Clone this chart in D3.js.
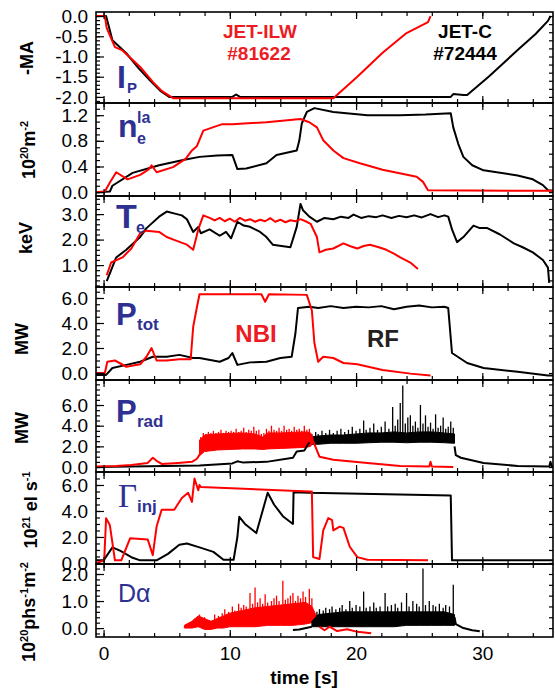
<!DOCTYPE html>
<html>
<head>
<meta charset="utf-8">
<title>JET-ILW #81622 vs JET-C #72444</title>
<style>
  body { margin: 0; background: #fff; }
  text { font-family: "Liberation Sans", Arial, sans-serif; }
</style>
</head>
<body>
<script src="https://cdn.jsdelivr.net/npm/d3@7"></script>
<script>
// values, [time s, value]
// C = JET-C #72444 (black), ILW = JET-ILW #81622 (red)

var ipC = [[-0.6,0],[0.2,0],[0.7,-0.6],[1.8,-0.92],[2.8,-1.3],[3.65,-1.58],[4.5,-1.85],[5.2,-2.0],[10.2,-2.0],[10.5,-1.94],[10.8,-2.0],[27.5,-2.0],[27.7,-1.93],[28.5,-1.95],[28.8,-1.95],[30.5,-1.5],[32.8,-0.84],[34.2,-0.45],[35.2,-0.12],[35.4,0]];
var ipILW = [[-0.6,0],[0.1,0],[0.25,-0.3],[0.9,-0.77],[1.5,-0.85],[2.9,-1.26],[3.9,-1.63],[4.6,-1.85],[5.5,-2.03],[18.2,-2.03],[20.1,-1.5],[22.1,-0.91],[24.0,-0.42],[25.7,-0.15],[25.9,0]];

var neC = [[-0.6,0],[0.5,0.01],[0.7,0.1],[2.3,0.3],[4.4,0.42],[6.3,0.5],[7.6,0.55],[9,0.57],[10.2,0.58],[10.6,0.36],[11.3,0.37],[12.9,0.45],[13.7,0.58],[15.3,0.65],[15.5,0.8],[15.7,1.07],[16.1,1.25],[16.7,1.31],[18.2,1.25],[20.9,1.2],[23.5,1.2],[25.5,1.21],[27.5,1.23],[27.7,1.01],[28.1,0.75],[28.5,0.55],[29.2,0.42],[30.1,0.34],[32.8,0.26],[34,0.2],[34.8,0.11],[35.2,0.03],[35.6,0.02]];
var neILW = [[-0.6,0],[0.1,0.01],[0.5,0.15],[1.0,0.31],[1.9,0.2],[2.9,0.27],[3.6,0.36],[3.8,0.42],[4.2,0.31],[5.5,0.39],[6.5,0.52],[7.0,0.65],[7.4,0.72],[7.9,0.96],[9.4,1.06],[10.2,1.06],[12.9,1.09],[15.6,1.14],[16.3,1.09],[16.9,1.01],[17.4,0.81],[18.2,0.65],[19,0.53],[20.3,0.45],[22.1,0.35],[24.8,0.24],[25.3,0.16],[25.7,0.03],[35.6,0.02]];

var teC = [[0.25,0.37],[0.6,0.8],[1.0,1.3],[1.8,1.6],[2.9,2.1],[3.4,2.45],[4.4,2.9],[5.0,3.1],[5.8,3.0],[6.2,2.95],[6.6,2.8],[7.1,2.3],[7.5,2.5],[7.7,2.25],[8.4,2.4],[9.2,2.15],[9.7,2.3],[10.1,2.05],[10.6,2.7],[11.1,2.55],[11.6,2.5],[12.0,2.4],[12.4,2.3],[12.9,2.1],[13.4,1.8],[14.1,1.75],[14.8,1.7],[15.3,2.5],[15.6,3.4],[15.8,3.15],[16.3,2.9],[16.9,2.7],[17.5,2.85],[18.2,2.8],[18.8,2.9],[19.4,2.85],[19.8,2.98],[20.4,2.85],[21.0,2.92],[21.6,2.88],[22.1,2.95],[22.8,2.85],[23.4,2.93],[24.0,2.88],[24.6,2.95],[25.2,2.87],[25.9,3.0],[26.5,2.88],[27.0,2.95],[27.3,2.9],[27.6,2.4],[28.0,1.9],[28.5,2.1],[29.3,2.55],[29.8,2.45],[30.4,2.45],[31.4,2.2],[32.5,1.85],[33.2,1.7],[34.0,1.5],[34.8,1.2],[35.2,0.9],[35.3,0.3]];
var teILW = [[0.25,0.6],[0.6,1.1],[1.5,1.3],[2.2,1.65],[2.9,2.25],[3.4,2.35],[4.4,2.3],[5.0,2.1],[5.8,1.95],[6.6,1.8],[7.1,1.6],[7.5,2.4],[7.9,2.95],[8.4,2.85],[8.8,2.75],[9.2,2.85],[9.6,2.72],[10.0,2.82],[10.4,2.7],[10.8,2.85],[11.2,2.74],[11.6,2.8],[12.0,2.7],[12.4,2.78],[12.8,2.72],[13.2,2.84],[13.6,2.7],[14.0,2.78],[14.4,2.68],[14.8,2.76],[15.2,2.72],[15.6,2.8],[16.0,2.72],[16.4,2.62],[16.9,2.1],[17.1,1.5],[17.6,1.6],[18.2,1.65],[19.0,1.85],[19.5,1.75],[20.1,1.65],[20.6,1.75],[21.1,1.8],[21.8,1.7],[22.4,1.6],[23.0,1.45],[23.5,1.3],[24.3,1.1],[24.9,0.85]];

var ptotC = [[-0.6,-0.15],[0.2,-0.15],[0.7,0.4],[1.8,0.65],[2.9,0.9],[3.9,1.3],[5.0,1.3],[6.0,1.45],[7.1,1.2],[7.6,1.2],[9.2,0.9],[9.9,1.2],[10.2,1.6],[10.6,0.65],[11.6,0.85],[12.9,0.9],[14.0,1.2],[14.9,1.3],[15.2,3.2],[15.4,5.2],[16.3,5.3],[17,5.2],[18,5.35],[19,5.2],[20,5.3],[21,5.25],[22,5.35],[23,5.1],[24,5.3],[25,5.4],[26,5.25],[27,5.3],[27.3,5.2],[27.6,1.6],[28.8,0.8],[30.1,0.4],[32.8,0.1],[35.2,-0.2],[35.6,-0.2]];
var ptotILW = [[-0.6,0],[0.1,0],[0.3,0.9],[0.9,1.0],[1.8,0.5],[2.9,0.7],[3.4,1.3],[3.8,2.0],[4.2,1.0],[5.0,1.0],[6.0,1.1],[6.9,1.1],[7.1,3.7],[7.4,5.3],[7.6,6.3],[12.5,6.3],[12.8,5.7],[13.1,6.3],[16.1,6.25],[16.5,5.0],[16.7,2.4],[17.0,0.9],[17.4,1.3],[18.2,1.2],[19.0,0.8],[20.1,0.7],[22.1,0.24],[24.3,-0.05],[25.9,-0.2]];

// P_rad: smooth parts as lines, noisy parts as [t, low, high] bands plus [t, peak] spikes
var pradC = [[-0.6,0],[7.6,0.15],[10.2,0.35],[10.6,0.55],[11,0.45],[12.9,0.5],[15.0,0.9],[15.3,1.5],[15.9,1.6],[16.3,2.4]];
var pradCBand = [[16.3,2.2,2.9],[17,2.2,3.0],[18,2.3,3.1],[19,2.3,3.1],[20,2.3,3.2],[21,2.35,3.3],[22,2.4,3.3],[23,2.4,3.4],[24,2.35,3.3],[25,2.4,3.4],[26,2.4,3.4],[27,2.35,3.3],[27.8,2.3,3.2]];
var pradCSpikes = [[16.5,3.2],[16.8,3.4],[17.0,3.2],[17.3,3.5],[17.6,3.3],[17.9,3.6],[18.2,3.3],[18.5,3.5],[18.8,3.7],[19.1,3.4],[19.4,3.6],[19.7,3.9],[20.0,3.5],[20.3,3.7],[20.6,4.5],[20.8,3.6],[21.1,3.8],[21.4,4.2],[21.7,3.6],[22.0,3.9],[22.3,4.4],[22.6,3.7],[22.9,5.8],[23.1,4.0],[23.3,4.6],[23.5,6.2],[23.7,7.9],[23.9,4.2],[24.1,4.8],[24.3,5.0],[24.5,4.0],[24.7,4.4],[24.9,3.8],[25.1,6.0],[25.3,4.2],[25.5,5.0],[25.7,3.9],[25.9,4.3],[26.1,3.7],[26.3,5.1],[26.5,3.8],[26.7,4.0],[26.9,4.8],[27.1,3.7],[27.3,3.9],[27.5,4.4],[27.7,3.8]];
var pradCTail = [[27.8,2.0],[27.9,1.15],[28.3,0.9],[30.1,0.4],[32.8,0.1],[35.3,0.05],[35.4,0.5],[35.5,0.05],[35.6,0.05]];
var pradILW = [[-0.6,0.05],[1,0.1],[2.2,0.2],[3.5,0.4],[3.9,0.9],[4.2,0.6],[4.6,0.3],[5.9,0.4],[7.0,0.5],[7.4,0.8],[7.6,1.2]];
var pradILWBand = [[7.6,1.1,2.6],[8,1.5,3.1],[9,1.65,3.2],[10,1.7,3.25],[11,1.75,3.3],[12,1.75,3.2],[12.6,1.7,2.9],[13,1.75,3.3],[14,1.8,3.3],[15,1.85,3.35],[16,1.9,3.4],[16.4,2.0,3.3],[16.6,2.4,2.8]];
var pradILWSpikes = [[7.7,2.9],[7.9,3.3],[8.1,3.2],[8.3,3.4],[8.5,3.3],[8.7,3.5],[8.9,3.3],[9.1,3.4],[9.3,3.6],[9.5,3.3],[9.7,3.5],[9.9,3.4],[10.1,3.5],[10.3,3.4],[10.5,3.7],[10.7,3.4],[10.9,3.5],[11.1,3.8],[11.3,3.4],[11.5,3.6],[11.7,3.5],[11.9,3.9],[12.1,3.5],[12.3,3.6],[12.5,3.2],[12.7,3.3],[12.9,3.7],[13.1,3.5],[13.3,4.0],[13.5,3.6],[13.7,3.5],[13.9,3.8],[14.1,3.5],[14.3,4.0],[14.5,3.6],[14.7,3.7],[14.9,3.5],[15.1,3.9],[15.3,3.6],[15.5,3.7],[15.7,3.5],[15.9,4.0],[16.1,3.6],[16.3,3.7]];
var pradILWTail = [[16.6,2.5],[17.1,1.0],[18.2,0.7],[20.9,0.4],[23.5,0.1],[25.8,0.05],[25.9,0.5],[26.0,0.05],[27.7,0.0]];

var gamC = [[-0.6,0.2],[0.0,0.2],[0.7,1.2],[1.3,0.95],[2.3,0.4],[2.9,0.2],[4.2,0.2],[5.1,0.7],[6.0,1.4],[6.6,1.5],[7.6,1.2],[8.7,0.85],[9.5,0.25],[10.3,0.25],[10.6,2.0],[10.75,3.55],[11.2,3.0],[12.1,2.3],[13.0,5.4],[13.5,4.5],[14.2,3.6],[15.0,3.0],[15.05,5.45],[16.3,5.4],[27.5,5.2],[27.6,0.2],[35.6,0.2]];
var gamILW = [[-0.6,0],[0.05,0.2],[0.2,3.45],[0.5,2.9],[0.9,0.2],[1.4,0.2],[2.1,1.9],[3.5,1.8],[3.9,0.6],[4.2,2.8],[4.6,4.1],[5.6,4.1],[6.2,5.0],[6.7,5.4],[7.0,4.7],[7.2,6.5],[7.5,5.6],[7.6,6.0],[7.7,5.85],[16.3,5.5],[16.5,5.5],[16.6,0.45],[17.1,0.3],[17.4,2.5],[17.8,3.45],[18.1,3.3],[18.2,2.5],[18.7,2.8],[19.0,2.7],[19.5,1.25],[20.1,0.45],[20.9,0.25],[25.7,0.2]];

var daC = [[15.0,-0.07],[15.5,-0.05],[16.5,0.05]];
var daCBand = [[16.5,0.05,0.25],[17,0.05,0.5],[18,0.05,0.55],[19,0.05,0.6],[20,0.05,0.6],[21,0.05,0.6],[22,0.05,0.6],[23,0.05,0.6],[24,0.1,0.6],[25,0.1,0.6],[26,0.1,0.6],[27,0.1,0.6],[27.8,0.1,0.5]];
var daCSpikes = [[16.9,0.6],[17.1,0.7],[17.4,0.65],[17.6,0.75],[17.9,0.7],[18.1,0.8],[18.4,0.7],[18.7,0.75],[18.9,0.85],[19.2,0.7],[19.5,1.0],[19.7,0.75],[20.0,0.85],[20.3,0.8],[20.6,1.35],[20.8,0.75],[21.1,0.8],[21.4,0.95],[21.6,0.75],[21.9,0.8],[22.3,1.3],[22.5,0.8],[22.8,0.85],[23.1,0.9],[23.3,0.75],[23.6,0.95],[24.0,1.3],[24.2,0.8],[24.5,1.0],[24.8,0.9],[25.0,0.8],[25.3,2.2],[25.5,0.85],[25.8,1.0],[26.1,0.85],[26.3,0.8],[26.6,0.9],[26.9,0.75],[27.1,0.85],[27.4,0.8],[27.7,1.6]];
var daCTail = [[27.8,0.4],[27.9,0.15],[28.5,0.0],[29.2,-0.08],[29.8,-0.12]];
var daILWBand = [[6.4,0.0,0.1],[7.0,0.0,0.25],[7.5,0.05,0.45],[8.0,-0.05,0.35],[8.5,-0.05,0.25],[9.0,0.0,0.35],[9.5,0.0,0.45],[10.0,0.05,0.55],[10.5,0.05,0.6],[11,0.05,0.65],[12,0.05,0.75],[13,0.1,0.8],[14,0.1,0.85],[15,0.1,0.9],[16,0.15,0.95],[16.5,0.2,0.8],[16.8,0.2,0.5],[17.1,0.05,0.15]];
var daILWSpikes = [[7.2,0.35],[7.6,0.5],[8.0,0.4],[8.4,0.3],[8.8,0.5],[9.1,0.45],[9.4,0.55],[9.6,0.7],[9.9,0.6],[10.2,0.8],[10.4,0.65],[10.7,0.9],[10.9,0.75],[11.1,0.85],[11.3,0.8],[11.6,1.3],[11.8,0.9],[12.0,1.5],[12.2,0.95],[12.4,1.1],[12.6,0.9],[12.8,1.25],[13.0,0.95],[13.3,1.0],[13.5,1.1],[13.7,1.2],[13.9,1.0],[14.2,1.75],[14.4,1.05],[14.6,1.1],[14.8,1.2],[15.0,1.3],[15.2,1.0],[15.4,1.2],[15.6,1.1],[15.8,1.35],[16.0,1.15],[16.3,1.45],[16.5,1.1]];
var daILWTail = [[17.1,0.05],[17.5,-0.08],[17.9,0.05],[18.5,-0.11],[19.3,-0.04],[20.1,-0.14],[21.2,-0.19]];

// tick labels
var timeTicks = [0, 10, 20, 30];
var ipTicks = [0, -0.5, -1, -1.5, -2];
var neTicks = [0, 0.4, 0.8, 1.2];
var teTicks = [1, 2, 3];
var mwTicks = [0, 2, 4, 6];
var daTicks = [0, 1, 2];

// layout
var W = 555, H = 688;
var left = 96, right = 553;
var red = "#ff0000", navy = "#2e3192";

var x = d3.scaleLinear().domain([-0.6, 35.6]).range([left, right]);

var panels = [
  {top: 12, bot: 103, dom: [-2.15, 0.1], ticks: ipTicks, minor: 0.1,
   lines: [[ipC, "#000"], [ipILW, red]]},
  {top: 103, bot: 196, dom: [-0.06, 1.39], ticks: neTicks, minor: 0.1,
   lines: [[neC, "#000"], [neILW, red]]},
  {top: 196, bot: 287, dom: [0.14, 3.71], ticks: teTicks, minor: 0.2,
   lines: [[teC, "#000"], [teILW, red]]},
  {top: 287, bot: 380, dom: [-0.56, 6.88], ticks: mwTicks, minor: 0.5,
   lines: [[ptotC, "#000"], [ptotILW, red]]},
  {top: 380, bot: 472, dom: [-0.48, 8.42], ticks: mwTicks, minor: 0.5,
   lines: [[pradC, "#000"], [pradCTail, "#000"], [pradILW, red], [pradILWTail, red]],
   bands: [[pradCBand, pradCSpikes, "#000"], [pradILWBand, pradILWSpikes, red]]},
  {top: 472, bot: 564, dom: [-0.08, 7.0], ticks: mwTicks, minor: 0.5,
   lines: [[gamC, "#000"], [gamILW, red]]},
  {top: 564, bot: 637, dom: [-0.33, 2.37], ticks: daTicks, minor: 0.2,
   lines: [[daC, "#000"], [daCTail, "#000"], [daILWTail, red]],
   bands: [[daILWBand, daILWSpikes, red], [daCBand, daCSpikes, "#000"]]}
];

var svg = d3.select("body").append("svg")
    .attr("width", W)
    .attr("height", H);

panels.forEach(function(p, i) {
  var y = d3.scaleLinear().domain(p.dom).range([p.bot, p.top]);
  var g = svg.append("g");

  g.append("clipPath").attr("id", "clip" + i)
    .append("rect")
    .attr("x", left).attr("y", p.top)
    .attr("width", right - left).attr("height", p.bot - p.top);

  var plot = g.append("g").attr("clip-path", "url(#clip" + i + ")");

  var line = d3.line()
      .x(function(d) { return x(d[0]); })
      .y(function(d) { return y(d[1]); });
  var area = d3.area()
      .x(function(d) { return x(d[0]); })
      .y0(function(d) { return y(d[1]); })
      .y1(function(d) { return y(d[2]); });

  // noisy bands with their spikes
  (p.bands || []).forEach(function(b) {
    plot.append("path")
      .datum(b[0])
      .attr("d", area)
      .attr("fill", b[2])
      .attr("stroke", b[2])
      .attr("stroke-width", 1);
    var bis = d3.bisector(function(d) { return d[0]; }).left;
    plot.selectAll(null)
      .data(b[1])
      .enter().append("line")
      .attr("x1", function(d) { return x(d[0]); })
      .attr("x2", function(d) { return x(d[0]); })
      .attr("y1", function(d) { return y(d[1]); })
      .attr("y2", function(d) {
        var k = Math.max(1, Math.min(b[0].length - 1, bis(b[0], d[0])));
        var a = b[0][k - 1], c = b[0][k];
        var f = (d[0] - a[0]) / (c[0] - a[0]);
        return y(a[2] + f * (c[2] - a[2]) - 0.2 * (a[2] - a[1]));
      })
      .attr("stroke", b[2])
      .attr("stroke-width", 1.3);
  });

  p.lines.forEach(function(l) {
    plot.append("path")
      .datum(l[0])
      .attr("d", line)
      .attr("fill", "none")
      .attr("stroke", l[1])
      .attr("stroke-width", 2)
      .attr("stroke-linejoin", "round");
  });

  // y axis, ticks inward
  var minorY = d3.range(Math.ceil(p.dom[0] / p.minor) * p.minor, p.dom[1], p.minor);
  g.append("g")
    .attr("transform", "translate(" + left + ",0)")
    .call(d3.axisLeft(y).tickValues(minorY).tickSize(-4).tickFormat(""))
    .call(function(a) { a.select(".domain").remove(); });
  g.append("g")
    .attr("transform", "translate(" + left + ",0)")
    .call(d3.axisLeft(y).tickValues(p.ticks).tickSize(-8).tickPadding(8).tickFormat(d3.format(".1f")))
    .call(function(a) {
      a.select(".domain").remove();
      a.selectAll("text").attr("font-size", 19).attr("fill", "#000")
        .text(function(d) { return d3.format(".1f")(d).replace("\u2212", "-"); });
    });
  var halfY = d3.range(Math.ceil(p.dom[0] / (p.minor * 2)) * p.minor * 2, p.dom[1], p.minor * 2);
  g.append("g")
    .attr("transform", "translate(" + right + ",0)")
    .call(d3.axisRight(y).tickValues(halfY).tickSize(-4).tickFormat(""))
    .call(function(a) { a.select(".domain").remove(); });

  // time ticks on top and bottom, inward
  var minorX = d3.range(0, 36, 2);
  [["axisTop", p.top], ["axisBottom", p.bot]].forEach(function(s) {
    g.append("g")
      .attr("transform", "translate(0," + s[1] + ")")
      .call(d3[s[0]](x).tickValues(minorX).tickSize(-4).tickFormat(""))
      .call(function(a) { a.select(".domain").remove(); });
    var ax = g.append("g")
      .attr("transform", "translate(0," + s[1] + ")")
      .call(d3[s[0]](x).tickValues(timeTicks).tickSize(-7).tickPadding(10)
        .tickFormat(i === panels.length - 1 && s[0] === "axisBottom" ? d3.format("d") : ""));
    ax.select(".domain").remove();
    ax.selectAll("text").attr("font-size", 19).attr("fill", "#000");
  });

  g.selectAll(".tick line").attr("stroke", "#000").attr("stroke-width", 1.2);

  g.append("rect")
    .attr("x", left).attr("y", p.top)
    .attr("width", right - left).attr("height", p.bot - p.top)
    .attr("fill", "none")
    .attr("stroke", "#000")
    .attr("stroke-width", 1.6);
});

// y axis titles
function yTitle(parts, xb, yc) {
  var t = svg.append("text")
    .attr("transform", "translate(" + xb + "," + yc + ") rotate(-90)")
    .attr("text-anchor", "middle")
    .attr("font-size", 18)
    .attr("font-weight", "bold");
  parts.forEach(function(s) {
    var sup = s[1];
    t.append("tspan")
      .attr("font-size", sup ? 11 : 18)
      .attr("dy", sup ? -7 : (s[2] ? 7 : 0))
      .text(s[0]);
  });
}
yTitle([["-MA"]], 33, 58);
yTitle([["10"], ["20", 1], ["m", 0, 1], ["-2", 1]], 35, 150);
yTitle([["keV"]], 32, 238);
yTitle([["MW"]], 28, 339);
yTitle([["MW"]], 28, 428);
yTitle([["10"], ["21", 1], [" el s", 0, 1], ["-1", 1]], 37, 510);
yTitle([["10"], ["20", 1], ["phs", 0, 1], ["-1", 1], ["m", 0, 1], ["-2", 1]], 35, 612);

// panel symbols
function sym(txt, xx, yy, size, weight, family) {
  svg.append("text")
    .attr("x", xx).attr("y", yy)
    .attr("font-size", size)
    .attr("font-weight", weight || "bold")
    .attr("fill", navy)
    .style("font-family", family || null)
    .text(txt);
}
sym("I", 117, 88, 32); sym("P", 127, 93, 15);
sym("n", 118, 137, 32); sym("la", 137, 123, 16); sym("e", 137, 144, 16);
sym("T", 116, 228, 34); sym("e", 136, 233, 16);
sym("P", 116, 325, 31); sym("tot", 137, 330, 17);
sym("P", 116, 422, 31); sym("rad", 137, 427, 17);
sym("\u0393", 118, 507, 33, "normal", "'Liberation Serif', 'DejaVu Serif', serif"); sym("inj", 137, 512, 17);
sym("D\u03b1", 118, 602, 25, "normal");

// annotations
function note(txt, xx, yy, size, col) {
  svg.append("text")
    .attr("x", xx).attr("y", yy)
    .attr("text-anchor", "middle")
    .attr("font-size", size)
    .attr("font-weight", "bold")
    .attr("fill", col)
    .text(txt);
}
note("JET-ILW", 260, 38, 19, "#ed1c24");
note("#81622", 259, 60, 19, "#ed1c24");
note("JET-C", 465, 38, 19, "#000");
note("#72444", 465, 60, 19, "#000");
note("NBI", 256, 342, 24, "#ed1c24");
note("RF", 383, 347, 24, "#231f20");

svg.append("text")
  .attr("x", 304).attr("y", 684)
  .attr("text-anchor", "middle")
  .attr("font-size", 19)
  .attr("font-weight", "bold")
  .text("time [s]");
</script>
</body>
</html>
